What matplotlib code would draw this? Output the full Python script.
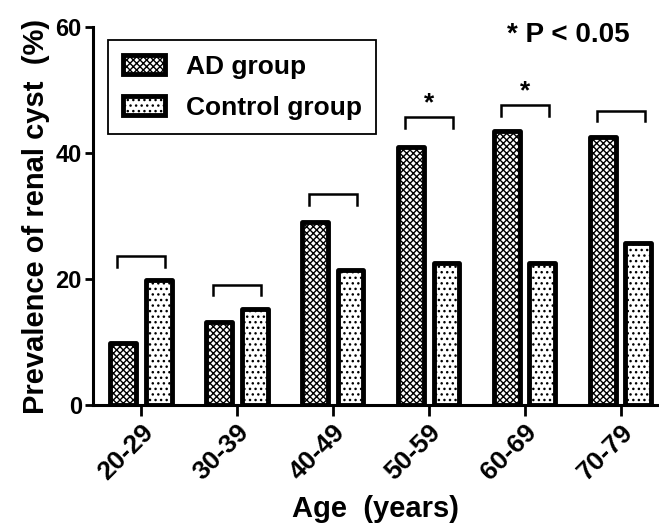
import matplotlib
matplotlib.use("Agg")
import matplotlib.pyplot as plt
import numpy as np

categories = ["20-29", "30-39", "40-49", "50-59", "60-69", "70-79"]
ad_values = [9.8, 13.1, 29.1, 40.9, 43.5, 42.6]
control_values = [19.9, 15.3, 21.5, 22.5, 22.5, 25.7]
bracket_heights = [23.6, 19.1, 33.5, 45.7, 47.6, 46.7]
significant = [False, False, False, True, True, False]

plt.rcParams['font.family'] = ['Liberation Sans', 'DejaVu Sans']
plt.rcParams['font.weight'] = 'bold'
plt.rcParams['hatch.linewidth'] = 1.0

fig = plt.figure(figsize=(6.59, 5.28), dpi=100)
ax = fig.add_axes([0.141, 0.233, 0.859, 0.716])

x = np.arange(len(categories))
w = 0.27
off = 0.185
ax.bar(x - off, ad_values, w, facecolor='white', edgecolor='black',
       linewidth=3.5, hatch='xxxxx', label='AD group', joinstyle='round')
ax.bar(x + off, control_values, w, facecolor='white', edgecolor='black',
       linewidth=3.5, hatch='...', label='Control group', joinstyle='round')

for xi, h, sig in zip(x, bracket_heights, significant):
    ax.plot([xi - 0.25, xi - 0.25, xi + 0.25, xi + 0.25],
            [h - 1.7, h, h, h - 1.7], color='black', lw=1.8, solid_joinstyle='miter')
    if sig:
        ax.text(xi, h + 0.3, '*', ha='center', va='bottom', fontsize=19, fontweight='bold')

ax.set_xlim(-0.5, 5.4)
ax.set_ylim(0, 60)
ax.set_yticks([0, 20, 40, 60])
ax.set_xticks(x)
ax.set_xticklabels(categories, rotation=45, ha='right', rotation_mode='anchor',
                   fontsize=19, fontweight='bold')
ax.tick_params(axis='y', labelsize=17, width=2, length=6, direction='out', pad=2)
ax.tick_params(axis='x', width=2, length=8, direction='out', pad=3)
for lbl in ax.get_yticklabels():
    lbl.set_fontweight('bold')

for s in ['top', 'right']:
    ax.spines[s].set_visible(False)
for s in ['left', 'bottom']:
    ax.spines[s].set_linewidth(2.2)

ax.set_xlabel('Age  (years)', fontsize=21, fontweight='bold', labelpad=7)
ax.set_ylabel('Prevalence of renal cyst  (%)', fontsize=21, fontweight='bold', labelpad=4)

leg = ax.legend(loc='upper left', bbox_to_anchor=(108/659, 1 - 40/528),
                bbox_transform=fig.transFigure, borderaxespad=0,
                prop={'size': 19, 'weight': 'bold'}, fancybox=False,
                edgecolor='black', framealpha=1, handlelength=1.6,
                handleheight=0.7, handletextpad=0.8, labelspacing=0.66,
                borderpad=0.55)
leg.get_frame().set_linewidth(1.3)

fig.text(568/659, 1 - 35/528, '* P < 0.05', ha='center', va='center',
         fontsize=20, fontweight='bold')

fig.savefig('out.png', dpi=100)
